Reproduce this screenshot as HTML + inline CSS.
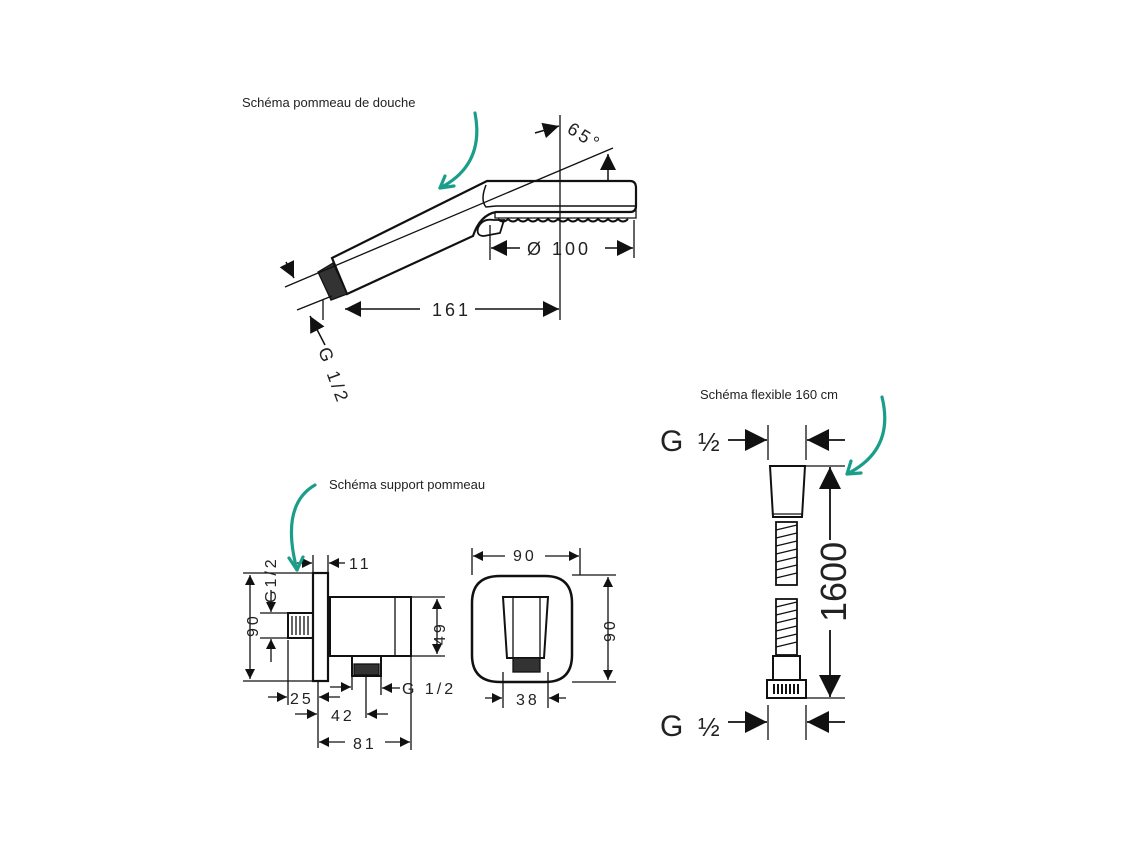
<!DOCTYPE html><html><head><style>body{margin:0;background:#fff}svg{display:block}text{font-family:"Liberation Sans",sans-serif;fill:#222}</style></head><body>
<svg width="1130" height="847" viewBox="0 0 1130 847" xmlns="http://www.w3.org/2000/svg">
<defs>
<marker id="a" viewBox="0 0 10 10" refX="10" refY="5" markerWidth="10" markerHeight="10" orient="auto-start-reverse" markerUnits="userSpaceOnUse"><path d="M0,0L10,5L0,10z" fill="#111"/></marker>
<marker id="c" viewBox="0 0 10 10" refX="10" refY="5" markerWidth="16" markerHeight="16" orient="auto-start-reverse" markerUnits="userSpaceOnUse"><path d="M0,0L10,5L0,10z" fill="#111"/></marker>
<marker id="b" viewBox="0 0 10 10" refX="10" refY="5" markerWidth="22" markerHeight="22" orient="auto-start-reverse" markerUnits="userSpaceOnUse"><path d="M0,0L10,5L0,10z" fill="#111"/></marker>
</defs>
<g stroke="#111" fill="none" stroke-width="1.3">
<!-- shower head -->
<path d="M332,258 L487,181 L630,181 Q636,181 636,188 L636,206 Q636,212 630,212 L496,212 Q480,215 473,236 L347,294 Z" stroke-width="2.2"/>
<path d="M486,185 Q480,200 486,207 L496,206 L636,206" stroke-width="1.5"/>
<path d="M495,212 L495,218 L636,218 L636,206"/>
<path d="M498,219 q5,5 10,0 q5,5 10,0 q5,5 10,0 q5,5 10,0 q5,5 10,0 q5,5 10,0 q5,5 10,0 q5,5 10,0 q5,5 10,0 q5,5 10,0 q5,5 10,0 q5,5 10,0 q5,5 10,0" stroke-width="2"/>
<path d="M478,228 Q482,218 494,220 L504,220 L500,233 L484,236 Q476,236 478,228Z" stroke-width="1.8"/>
<path d="M318,272 L333,263 L347,294 L331,300 Z" fill="#333"/>
<line x1="285" y1="287" x2="613" y2="148"/>
<line x1="297" y1="310" x2="332" y2="296"/>
<line x1="560" y1="115" x2="560" y2="320"/>
<line x1="490" y1="225" x2="490" y2="260"/><line x1="634" y1="220" x2="634" y2="258"/>
<line x1="323" y1="300" x2="323" y2="320"/>
<line x1="345" y1="309" x2="420" y2="309" marker-start="url(#c)" stroke-width="1.5"/>
<line x1="475" y1="309" x2="559" y2="309" marker-end="url(#c)" stroke-width="1.5"/>
<line x1="491" y1="248" x2="520" y2="248" marker-start="url(#c)" stroke-width="1.5"/>
<line x1="605" y1="248" x2="633" y2="248" marker-end="url(#c)" stroke-width="1.5"/>
<line x1="535" y1="133" x2="559" y2="126" marker-end="url(#c)" stroke-width="1.5"/>
<line x1="608" y1="180" x2="608" y2="154" marker-end="url(#c)" stroke-width="1.5"/>
<line x1="286" y1="262" x2="294" y2="278" marker-end="url(#c)" stroke-width="1.5"/>
<line x1="325" y1="345" x2="310" y2="316" marker-end="url(#c)" stroke-width="1.5"/>
<!-- support side -->
<rect x="313" y="573" width="15" height="108" stroke-width="2.2"/>
<rect x="330" y="597" width="81" height="59" stroke-width="2"/>
<line x1="395" y1="597" x2="395" y2="656"/>
<rect x="288" y="613" width="25" height="25" stroke-width="2"/>
<path d="M292,616v19M296,616v19M300,616v19M304,616v19M308,616v19"/>
<rect x="352" y="656" width="29" height="20" stroke-width="2"/>
<rect x="354" y="664" width="25" height="11" fill="#333"/>
<line x1="243" y1="573" x2="313" y2="573"/><line x1="243" y1="681" x2="313" y2="681"/>
<line x1="250" y1="575" x2="250" y2="679" marker-start="url(#a)" marker-end="url(#a)"/>
<line x1="260" y1="613" x2="288" y2="613"/><line x1="260" y1="638" x2="288" y2="638"/>
<line x1="271" y1="590" x2="271" y2="612" marker-end="url(#a)"/><line x1="271" y1="662" x2="271" y2="639" marker-end="url(#a)"/>
<line x1="313" y1="555" x2="313" y2="573"/><line x1="328" y1="555" x2="328" y2="573"/>
<line x1="297" y1="563" x2="312" y2="563" marker-end="url(#a)"/><line x1="345" y1="563" x2="329" y2="563" marker-end="url(#a)"/>
<line x1="411" y1="597" x2="445" y2="597"/><line x1="411" y1="656" x2="445" y2="656"/>
<line x1="437" y1="599" x2="437" y2="654" marker-start="url(#a)" marker-end="url(#a)"/>
<line x1="288" y1="640" x2="288" y2="705"/><line x1="318" y1="681" x2="318" y2="748"/><line x1="411" y1="656" x2="411" y2="750"/><line x1="381" y1="676" x2="381" y2="695"/><line x1="366" y1="676" x2="366" y2="718"/><line x1="352" y1="676" x2="352" y2="690"/>
<line x1="268" y1="697" x2="287" y2="697" marker-end="url(#a)"/><line x1="340" y1="697" x2="319" y2="697" marker-end="url(#a)"/>
<line x1="330" y1="687" x2="351" y2="687" marker-end="url(#a)"/><line x1="400" y1="688" x2="382" y2="688" marker-end="url(#a)"/>
<line x1="295" y1="714" x2="317" y2="714" marker-end="url(#a)"/><line x1="388" y1="714" x2="367" y2="714" marker-end="url(#a)"/>
<line x1="319" y1="742" x2="345" y2="742" marker-start="url(#a)"/><line x1="385" y1="742" x2="410" y2="742" marker-end="url(#a)"/>
<!-- support front -->
<path d="M500,576 L545,576 Q572,576 572,603 L572,655 Q572,682 545,682 L500,682 Q472,682 472,655 L472,603 Q472,576 500,576Z" stroke-width="2.5"/>
<path d="M503,597 L548,597 L544,658 L507,658 Z" stroke-width="2"/>
<line x1="513" y1="597" x2="513" y2="658"/><line x1="540" y1="597" x2="540" y2="658"/>
<rect x="513" y="658" width="27" height="14" fill="#333"/>
<line x1="472" y1="548" x2="472" y2="575"/><line x1="580" y1="548" x2="580" y2="575"/>
<line x1="473" y1="556" x2="505" y2="556" marker-start="url(#a)"/><line x1="545" y1="556" x2="579" y2="556" marker-end="url(#a)"/>
<line x1="572" y1="575" x2="616" y2="575"/><line x1="572" y1="682" x2="616" y2="682"/>
<line x1="608" y1="577" x2="608" y2="680" marker-start="url(#a)" marker-end="url(#a)"/>
<line x1="503" y1="672" x2="503" y2="708"/><line x1="548" y1="672" x2="548" y2="708"/>
<line x1="485" y1="698" x2="502" y2="698" marker-end="url(#a)"/><line x1="566" y1="698" x2="549" y2="698" marker-end="url(#a)"/>
<!-- hose -->
<line x1="768" y1="425" x2="768" y2="460"/><line x1="806" y1="425" x2="806" y2="460"/>
<line x1="728" y1="440" x2="767" y2="440" marker-end="url(#b)" stroke-width="1.8"/><line x1="845" y1="440" x2="807" y2="440" marker-end="url(#b)" stroke-width="1.8"/>
<path d="M770,466 L805,466 L802,517 L773,517 Z" stroke-width="2"/>
<line x1="773" y1="514" x2="802" y2="514"/>
<rect x="776" y="522" width="21" height="63" stroke-width="1.8"/>
<path d="M776,530 l21,-5 M776,538 l21,-5 M776,546 l21,-5 M776,554 l21,-5 M776,562 l21,-5 M776,570 l21,-5 M776,578 l21,-5"/>
<rect x="776" y="599" width="21" height="56" stroke-width="1.8"/>
<path d="M776,607 l21,-5 M776,615 l21,-5 M776,623 l21,-5 M776,631 l21,-5 M776,639 l21,-5 M776,647 l21,-5"/>
<rect x="773" y="656" width="27" height="24" stroke-width="2"/>
<rect x="767" y="680" width="39" height="18" stroke-width="2"/>
<path d="M774,684v10M778,684v10M782,684v10M786,684v10M790,684v10M794,684v10M798,684v10" stroke-width="2"/>
<line x1="806" y1="466" x2="845" y2="466"/><line x1="806" y1="698" x2="845" y2="698"/>
<line x1="830" y1="467" x2="830" y2="540" marker-start="url(#b)" stroke-width="1.8"/>
<line x1="830" y1="630" x2="830" y2="697" marker-end="url(#b)" stroke-width="1.8"/>
<line x1="768" y1="705" x2="768" y2="740"/><line x1="806" y1="705" x2="806" y2="740"/>
<line x1="728" y1="722" x2="767" y2="722" marker-end="url(#b)" stroke-width="1.8"/><line x1="845" y1="722" x2="807" y2="722" marker-end="url(#b)" stroke-width="1.8"/>
<!-- green arrows -->
<g stroke="#1a9e8a" stroke-width="3.2" stroke-linecap="round">
<path d="M475,113 Q485,165 440,188"/><path d="M440,188 l14,-2 M440,188 l5,-12"/>
<path d="M315,485 Q280,505 297,570"/><path d="M297,570 l-8,-12 M297,570 l6,-13"/>
<path d="M882,397 Q895,450 847,474"/><path d="M847,474 l14,-1 M847,474 l4,-13"/>
</g>
</g>
<g font-size="13">
<text x="242" y="107">Schéma pommeau de douche</text>
<text x="329" y="489">Schéma support pommeau</text>
<text x="700" y="399">Schéma flexible 160 cm</text>
</g>
<g font-size="18" letter-spacing="3">
<text x="432" y="316">161</text>
<text x="527" y="255">Ø 100</text>
<text transform="translate(566,132) rotate(32)">65°</text>
<text transform="translate(318,350) rotate(70)">G 1/2</text>
<text x="349" y="569" font-size="16">11</text>
<text x="402" y="694" font-size="16">G   1/2</text>
<text x="290" y="704" font-size="16">25</text>
<text x="331" y="721" font-size="16">42</text>
<text x="353" y="749" font-size="16">81</text>
<text x="513" y="561" font-size="16">90</text>
<text x="516" y="705" font-size="16">38</text>
<text transform="translate(258,637) rotate(-90)" font-size="16">90</text>
<text transform="translate(276,603) rotate(-90)" font-size="16">G1/2</text>
<text transform="translate(445,645) rotate(-90)" font-size="16">49</text>
<text transform="translate(615,642) rotate(-90)" font-size="16">90</text>
</g>
<g font-size="30">
<text x="660" y="451">G</text><text x="698" y="451" font-size="26">½</text>
<text x="660" y="736">G</text><text x="698" y="736" font-size="26">½</text>
<text transform="translate(846,622) rotate(-90)" font-size="36">1600</text>
</g>
</svg>
</body></html>
